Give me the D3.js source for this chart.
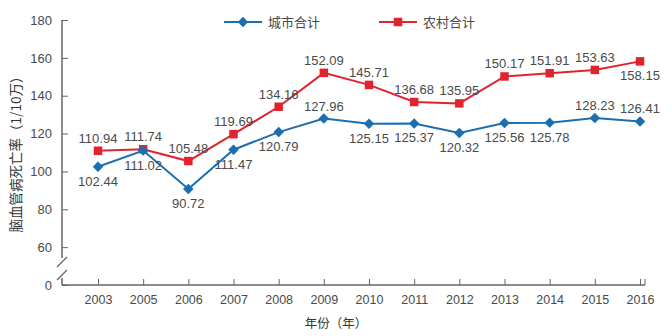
<!DOCTYPE html>
<html><head><meta charset="utf-8">
<script src="https://cdn.jsdelivr.net/npm/d3@7"></script>
<style>
body{margin:0;background:#fff;}
text{font-family:"Liberation Sans",Arial,"Noto Sans CJK SC",sans-serif;}
</style></head>
<body><svg id="c" width="672" height="336"></svg>
<script>
const years = ["2003","2005","2006","2007","2008","2009","2010","2011","2012","2013","2014","2015","2016"];
const urban = [102.44,111.02,90.72,111.47,120.79,127.96,125.15,125.37,120.32,125.56,125.78,128.23,126.41];
const rural = [110.94,111.74,105.48,119.69,134.16,152.09,145.71,136.68,135.95,150.17,151.91,153.63,158.15];
const yTicks = [40,60,80,100,120,140,160,180];
const yTickLabels = ["0","60","80","100","120","140","160","180"];
const seriesNames = ["城市合计","农村合计"];
const urbanAbove = [false,false,false,false,false,true,false,false,false,false,false,true,true];
const ruralAbove = [true,true,true,true,true,true,true,true,true,true,true,true,false];

const svg = d3.select("#c");
const axisColor = "#666", textColor = "#4a4a4a";
const blue = "#1b6fb0", red = "#e0232c";
const x = d3.scalePoint().domain(years).range([98,640]);
const y = d3.scaleLinear().domain([40,180]).range([285,20]);

// y axis
const yAxis = d3.axisLeft(y).tickValues(yTicks).tickFormat((d,i)=>yTickLabels[i]).tickSize(-6).tickPadding(10);
const gy = svg.append("g").attr("transform","translate(62,0)").call(yAxis);
gy.select(".domain").remove();
gy.selectAll(".tick line").attr("stroke",axisColor);
gy.selectAll(".tick text").attr("fill",textColor).style("font-size","13px");
// y axis line with break
svg.append("line").attr("x1",62).attr("x2",62).attr("y1",y(180)).attr("y2",258).attr("stroke",axisColor).attr("stroke-width",1.5);
svg.append("line").attr("x1",62).attr("x2",62).attr("y1",278).attr("y2",y(40)).attr("stroke",axisColor).attr("stroke-width",1.5);
svg.append("line").attr("x1",57).attr("x2",67).attr("y1",267).attr("y2",257).attr("stroke",axisColor).attr("stroke-width",1.3);
svg.append("line").attr("x1",57).attr("x2",67).attr("y1",280).attr("y2",270).attr("stroke",axisColor).attr("stroke-width",1.3);

// x axis
const xAxis = d3.axisBottom(x).tickSize(-6).tickPadding(10);
const gx = svg.append("g").attr("transform",`translate(0,${y(40)})`).call(xAxis);
gx.select(".domain").remove();
gx.selectAll(".tick line").attr("stroke",axisColor);
gx.selectAll(".tick text").attr("fill",textColor).style("font-size","12.5px");
svg.append("line").attr("x1",62).attr("x2",645).attr("y1",y(40)).attr("y2",y(40)).attr("stroke",axisColor).attr("stroke-width",1.5);
svg.append("line").attr("x1",645).attr("x2",645).attr("y1",y(40)-6).attr("y2",y(40)).attr("stroke",axisColor);

// axis titles
svg.append("text").attr("transform","translate(21,151) rotate(-90)").attr("text-anchor","middle")
  .attr("fill","#333").style("font-size","13.5px").style("font-family","'Noto Sans CJK SC',sans-serif")
  .text("脑血管病死亡率（1/10万）");
svg.append("text").attr("x",336).attr("y",328).attr("text-anchor","middle")
  .attr("fill","#333").style("font-size","12.5px").style("font-family","'Noto Sans CJK SC',sans-serif")
  .text("年份（年）");

const line = d3.line().x((d,i)=>x(years[i])).y(d=>y(d));
function drawSeries(vals, color, shape, above){
  svg.append("path").datum(vals).attr("d",line).attr("fill","none").attr("stroke",color).attr("stroke-width",2);
  svg.selectAll(null).data(vals).enter().append("path")
    .attr("transform",(d,i)=>`translate(${x(years[i])},${y(d)})`)
    .attr("d", shape==="diamond" ? d3.symbol().type(d3.symbolDiamond2).size(70)() : d3.symbol().type(d3.symbolSquare).size(72)())
    .attr("fill",color);
  svg.selectAll(null).data(vals).enter().append("text")
    .attr("x",(d,i)=>x(years[i]))
    .attr("y",(d,i)=>above[i] ? y(d)-8 : y(d)+19)
    .attr("text-anchor","middle").attr("fill",textColor).style("font-size","13px")
    .text(d=>d.toFixed(2));
}
drawSeries(rural, red, "square", ruralAbove);
drawSeries(urban, blue, "diamond", urbanAbove);

// legend
const lg = [{name:seriesNames[0],color:blue,shape:"diamond",x:224},{name:seriesNames[1],color:red,shape:"square",x:379}];
lg.forEach(l=>{
  svg.append("line").attr("x1",l.x).attr("x2",l.x+38).attr("y1",22).attr("y2",22).attr("stroke",l.color).attr("stroke-width",2);
  svg.append("path").attr("transform",`translate(${l.x+19},22)`)
    .attr("d", l.shape==="diamond" ? d3.symbol().type(d3.symbolDiamond2).size(70)() : d3.symbol().type(d3.symbolSquare).size(72)())
    .attr("fill",l.color);
  svg.append("text").attr("x",l.x+44).attr("y",27).attr("fill",textColor).style("font-size","13px")
    .style("font-family","'Noto Sans CJK SC',sans-serif").text(l.name);
});
</script></body></html>
